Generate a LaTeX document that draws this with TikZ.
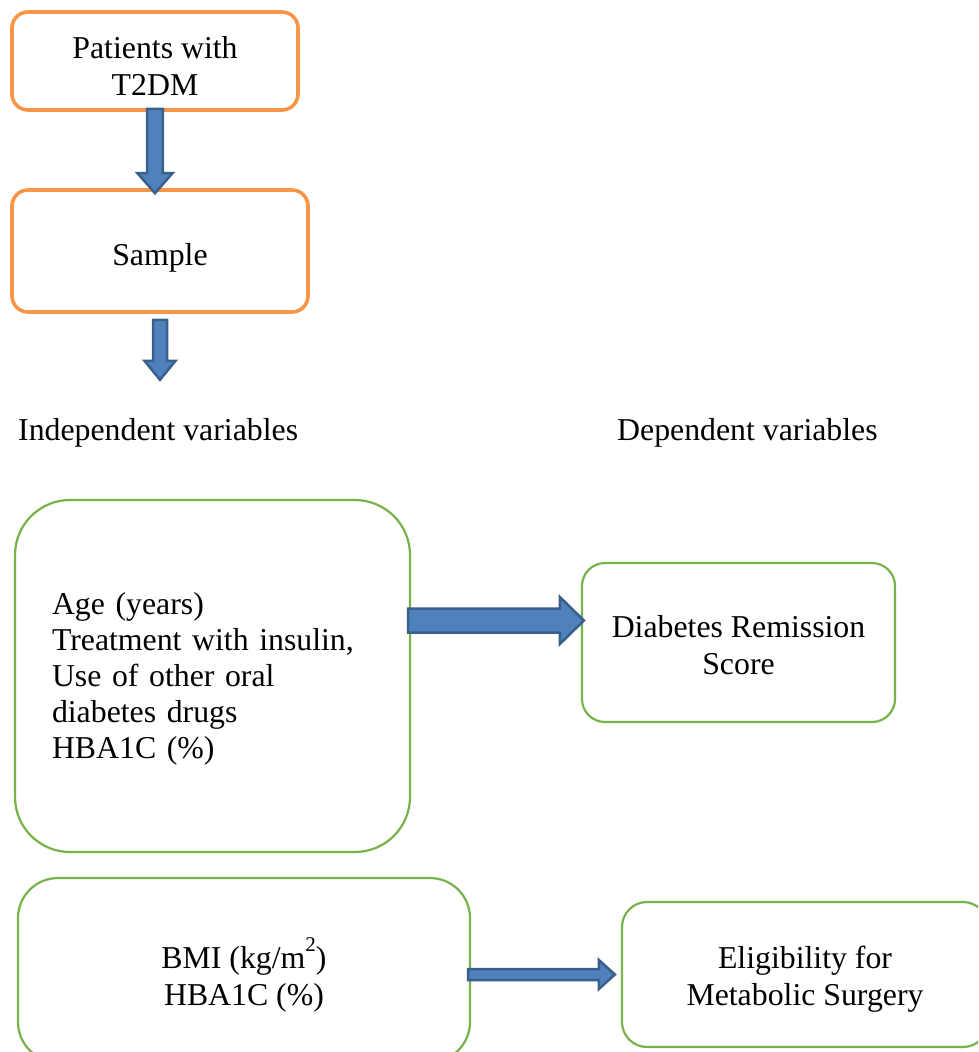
\documentclass[tikz,border=0pt]{standalone}
\usepackage{fontspec}
\setmainfont{Liberation Serif}
\usepackage{xcolor}
\definecolor{cOrange}{HTML}{F79646}
\definecolor{cGreen}{HTML}{77B24A}
\definecolor{cArrowFill}{HTML}{4F81BD}
\definecolor{cArrowEdge}{HTML}{3A5F8B}
\usepackage{tikz}
\usetikzlibrary{positioning,calc}
\newcommand{\supTwo}{\raisebox{17pt}{\fontsize{21pt}{21pt}\selectfont 2}}
\tikzset{
  node-text/.style={font=\fontsize{31.8pt}{37pt}\selectfont,align=center,inner sep=0pt},
  % strut from the last baseline, pushes the text down a little
  text-low/.style={execute at begin node={\rule{0pt}{#1}}},
  node-step/.style={node-text,draw=cOrange,line width=3.6pt,rounded corners=16pt},
  node-var/.style={node-text,draw=cGreen,line width=2.2pt},
  % block arrow: shaft half width, head half width, head length
  arrow-shaft/.store in=\arrowShaft,
  arrow-head/.store in=\arrowHead,
  arrow-len/.store in=\arrowLen,
  arrow-shaft=7pt, arrow-head=16pt, arrow-len=18pt,
  arrow-block/.style={draw=cArrowEdge,fill=cArrowFill,line width=2.5pt,line join=miter,
    to path={($(\tikztotarget)!\arrowLen!(\tikztostart)$) coordinate (ahb)
      ($(\tikztostart)!\arrowShaft!90:(\tikztotarget)$)
      -- ($(ahb)!\arrowShaft!90:(\tikztotarget)$)
      -- ($(ahb)!\arrowHead!90:(\tikztotarget)$)
      -- (\tikztotarget)
      -- ($(ahb)!\arrowHead!-90:(\tikztotarget)$)
      -- ($(ahb)!\arrowShaft!-90:(\tikztotarget)$)
      -- ($(\tikztostart)!\arrowShaft!-90:(\tikztotarget)$) -- cycle}},
}

\begin{document}
\begin{tikzpicture}
  \useasboundingbox (0pt,0pt) rectangle (978pt,-1052pt);
  \begin{scope}
    \clip (0pt,0pt) rectangle (978pt,-1052pt);

    % sample selection
    \node[node-step,text-low=69pt,minimum width=286pt,minimum height=98pt]
      (patients) at (155pt,-61pt) {Patients with\\T2DM};
    \node[node-step,text-low=36pt,minimum width=296pt,minimum height=122pt]
      (sample) at (160pt,-251pt) {Sample};
    \coordinate (sample-out) at ([yshift=-66pt]sample.south);

    \node[node-text,anchor=base west] (indep) at (18pt,-440pt) {Independent variables};
    \node[node-text,anchor=base west] (dep) at (617pt,-440pt) {Dependent variables};

    % first model
    \node[node-var,text-low=28pt,rounded corners=55pt,minimum width=395pt,minimum height=352pt,
      text width=321pt,align=left,font=\fontsize{31.8pt}{36pt}\selectfont]
      (predictors) at (212.5pt,-676pt)
      {Age (years)\\Treatment with insulin,\\Use of other oral\\diabetes drugs\\HBA1C (\%)};
    \node[node-var,text-low=65pt,rounded corners=23pt,minimum width=313pt,minimum height=159pt]
      (remission) at (738.5pt,-642.5pt) {Diabetes Remission\\Score};

    % second model
    \node[node-var,text-low=78pt,rounded corners=40pt,minimum width=452pt,minimum height=184pt]
      (bmi) at (244pt,-970pt) {BMI (kg/m\supTwo)\\HBA1C (\%)};
    \node[node-var,text-low=69pt,rounded corners=25pt,minimum width=366pt,minimum height=145pt]
      (eligibility) at (805pt,-974.5pt) {Eligibility for\\Metabolic Surgery};

    \draw[arrow-block,arrow-shaft=7.8pt,arrow-head=17.5pt,arrow-len=20pt]
      ([yshift=3pt]patients.south) to ([yshift=-5pt]patients.south |- sample.north);
    \draw[arrow-block,arrow-shaft=7pt,arrow-head=15.5pt,arrow-len=19pt]
      ([yshift=-6pt]sample.south) to (sample-out);
    \draw[arrow-block,arrow-shaft=12pt,arrow-head=23.5pt,arrow-len=24pt]
      ([xshift=-3pt,yshift=22pt]predictors.east |- remission.west)
      to ([xshift=3pt,yshift=22pt]remission.west);
    \draw[arrow-block,arrow-shaft=5.5pt,arrow-head=14.5pt,arrow-len=16pt]
      ([xshift=-3pt]bmi.east |- eligibility.west) to ([xshift=-6pt]eligibility.west);
  \end{scope}
\end{tikzpicture}
\end{document}
